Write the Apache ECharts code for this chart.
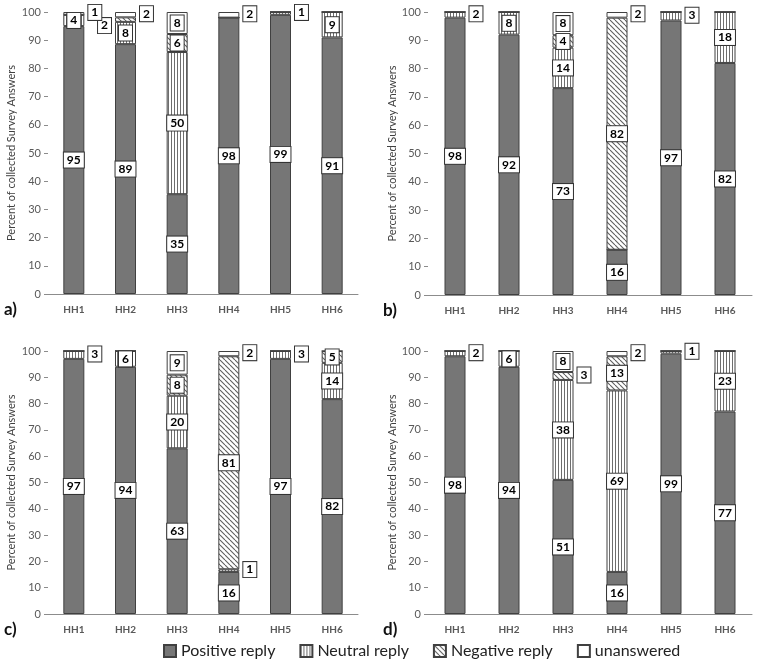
<!DOCTYPE html>
<html>
<head>
<meta charset="utf-8">
<script src="https://cdn.jsdelivr.net/npm/echarts@6/dist/echarts.min.js"></script>
<style>
html,body{margin:0;padding:0;background:#fff;}
#chart{width:758px;height:661px;}
</style>
</head>
<body>
<div id="chart"></div>
<script>
// ---- Data ----
const categories = ['HH1', 'HH2', 'HH3', 'HH4', 'HH5', 'HH6'];
const seriesNames = ['Positive reply', 'Neutral reply', 'Negative reply', 'unanswered'];
const yTicks = [0, 10, 20, 30, 40, 50, 60, 70, 80, 90, 100];

// Panel a)
const aPositive   = [95, 88.6, 35.4, 98, 99, 91];
const aNeutral    = [4, 7.9, 50.4, 0, 1, 9];
const aNegative   = [0, 1.6, 6.4, 0, 0, 0];
const aUnanswered = [1, 1.9, 7.8, 2, 0, 0];
// Panel b)
const bPositive   = [98, 92, 73.1, 16, 97, 82];
const bNeutral    = [2, 8, 14.3, 0, 3, 18];
const bNegative   = [0, 0, 4.4, 82, 0, 0];
const bUnanswered = [0, 0, 8.2, 2, 0, 0];
// Panel c)
const cPositive   = [97, 94, 63, 16, 97, 81.7];
const cNeutral    = [3, 6, 20, 1, 3, 13.8];
const cNegative   = [0, 0, 8, 81, 0, 4.5];
const cUnanswered = [0, 0, 9, 2, 0, 0];
// Panel d)
const dPositive   = [98, 94, 51, 16, 99, 77];
const dNeutral    = [2, 6, 38, 69, 1, 23];
const dNegative   = [0, 0, 3, 13, 0, 0];
const dUnanswered = [0, 0, 8, 2, 0, 0];

const panelLetters = ['a)', 'b)', 'c)', 'd)'];

// labels drawn beside the bar: [panel, category index, series index, side]
const outsideLabels = [
  [0, 0, 3, 'right'], [0, 1, 2, 'left'], [0, 1, 3, 'right'], [0, 3, 3, 'right'], [0, 4, 1, 'right'],
  [1, 0, 1, 'right'], [1, 3, 3, 'right'], [1, 4, 1, 'right'],
  [2, 0, 1, 'right'], [2, 3, 3, 'right'], [2, 3, 1, 'right'], [2, 4, 1, 'right'],
  [3, 0, 1, 'right'], [3, 2, 2, 'right'], [3, 3, 3, 'right'], [3, 4, 1, 'right']
];

const panels = [
  [aPositive, aNeutral, aNegative, aUnanswered],
  [bPositive, bNeutral, bNegative, bUnanswered],
  [cPositive, cNeutral, cNegative, cUnanswered],
  [dPositive, dNeutral, dNegative, dUnanswered]
];

// ---- Patterns ----
function verticalPattern() {
  const c = document.createElement('canvas');
  c.width = 3; c.height = 3;
  const g = c.getContext('2d');
  g.fillStyle = '#fff'; g.fillRect(0, 0, 3, 3);
  g.fillStyle = '#6e6e6e'; g.fillRect(0, 0, 1, 3);
  return c;
}
function diagonalPattern() {
  const s = 5;
  const c = document.createElement('canvas');
  c.width = s; c.height = s;
  const g = c.getContext('2d');
  g.fillStyle = '#fff'; g.fillRect(0, 0, s, s);
  g.strokeStyle = '#5e5e5e'; g.lineWidth = 1.1;
  for (let k = -1; k <= 1; k++) {
    g.beginPath(); g.moveTo(k * s, 0); g.lineTo(k * s + s, s); g.stroke();
  }
  return c;
}
const fills = [
  '#767676',
  { image: verticalPattern(), repeat: 'repeat' },
  { image: diagonalPattern(), repeat: 'repeat' },
  '#ffffff'
];

const FONT = 'Lato, "Liberation Sans", sans-serif';

const grids = [
  { left: 48, top: 12, width: 310, height: 282 },
  { left: 428, top: 12, width: 324, height: 283 },
  { left: 48, top: 351, width: 310, height: 263 },
  { left: 428, top: 351, width: 324, height: 263 }
];

const xAxes = grids.map((g, i) => ({
  type: 'category', gridIndex: i, data: categories,
  axisLine: { show: true, lineStyle: { color: '#8c8c8c', width: 1 } },
  axisTick: { show: false },
  axisLabel: { fontFamily: FONT, fontSize: 10, fontWeight: 'bold', color: '#595959', margin: 11 }
}));
const yAxes = grids.map((g, i) => ({
  type: 'value', gridIndex: i, min: yTicks[0], max: yTicks[yTicks.length - 1], interval: yTicks[1] - yTicks[0],
  name: 'Percent of collected Survey Answers', nameLocation: 'middle', nameGap: i % 2 === 0 ? 31 : 30,
  nameTextStyle: { fontFamily: FONT, fontSize: 11, color: '#404040' },
  axisLine: { show: false },
  axisTick: { show: true, length: 4, lineStyle: { color: '#8c8c8c' } },
  splitLine: { show: false },
  axisLabel: { fontFamily: FONT, fontSize: 11, color: '#595959', margin: 7 }
}));

const baseLabel = {
  show: true, position: 'inside', fontFamily: FONT, fontSize: 12, fontWeight: 'bold', color: '#000',
  backgroundColor: '#fff', borderColor: '#333', borderWidth: 1, padding: [2, 3, 1, 3],
  formatter: p => String(Math.round(p.value))
};

const series = [];
panels.forEach((panel, p) => {
  panel.forEach((vals, s) => {
    const data = vals.map((v, ci) => {
      const item = { value: v };
      if (v === 0) { item.label = { show: false }; return item; }
      const o = outsideLabels.find(r => r[0] === p && r[1] === ci && r[2] === s);
      if (o) item.label = { position: o[3], distance: 4, offset: o[3] === 'left' ? [0, 6] : [0, -1] };
      return item;
    });
    series.push({
      name: seriesNames[s], type: 'bar', stack: 'p' + p,
      xAxisIndex: p, yAxisIndex: p, barWidth: 21,
      itemStyle: { color: fills[s], borderColor: '#404040', borderWidth: 1 },
      label: baseLabel,
      emphasis: { disabled: true },
      data: data
    });
  });
});

const letterPos = [[4, 301], [383, 302], [4, 621], [383, 621]];
const graphic = panelLetters.map((t, i) => ({
  type: 'text', left: letterPos[i][0], top: letterPos[i][1],
  style: { text: t, fontFamily: FONT, fontSize: 17, fontWeight: 'bold', fill: '#111' }
}));

const chart = echarts.init(document.getElementById('chart'), null, { renderer: 'canvas' });
chart.setOption({
  animation: false,
  backgroundColor: '#fff',
  grid: grids,
  xAxis: xAxes,
  yAxis: yAxes,
  legend: {
    data: seriesNames, left: 158, top: 638, itemWidth: 12, itemHeight: 12, itemGap: 24,
    icon: 'rect',
    textStyle: { fontFamily: FONT, fontSize: 16, color: '#222' }
  },
  graphic: graphic,
  series: series
});
</script>
</body>
</html>
